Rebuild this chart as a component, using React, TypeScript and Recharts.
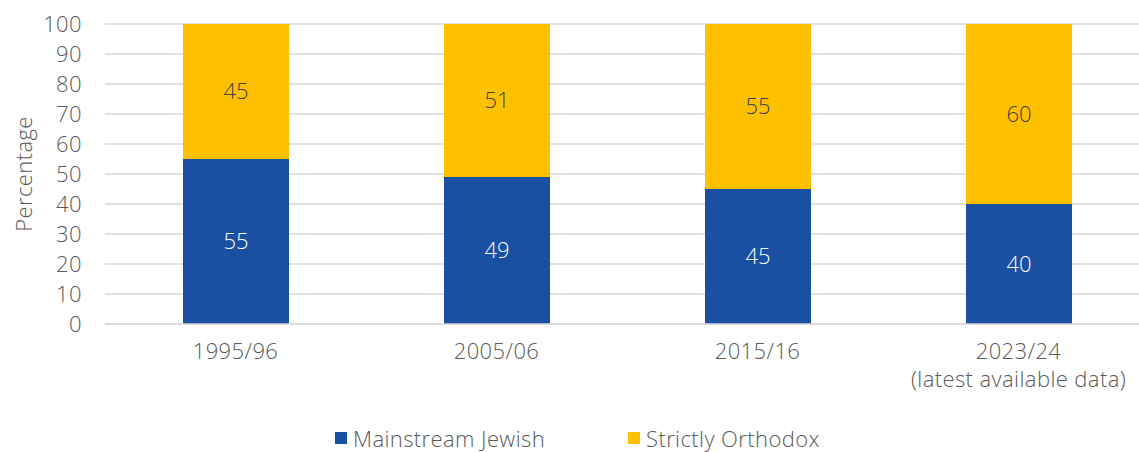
import React from 'react';
import {
  BarChart, Bar, XAxis, YAxis, CartesianGrid, LabelList, Label, Legend,
} from 'recharts';

const categories = ['1995/96', '2005/06', '2015/16', '2023/24\n(latest available data)'];
const mainstream = [55, 49, 45, 40];
const orthodox = [45, 51, 55, 60];
const yTicks = [0, 10, 20, 30, 40, 50, 60, 70, 80, 90, 100];

const BLUE = '#1a50a2';
const GOLD = '#ffc000';
const TEXT = '#595959';
const FONT = '"Open Sans", "Noto Sans", sans-serif';
const FS = 22;
const LS = 0.4;

const data = categories.map((c, i) => ({
  name: c,
  mainstream: mainstream[i],
  orthodox: orthodox[i],
}));

const XTick = ({ x, y, payload }) => {
  const lines = String(payload.value).split('\n');
  return (
    <g transform={`translate(${x},${y})`}>
      {lines.map((l, i) => (
        <text key={i} x={0} y={27 + i * 28} textAnchor="middle" fill={TEXT}
          fontSize={FS} fontFamily={FONT} fontWeight={300} letterSpacing={LS}>{l}</text>
      ))}
    </g>
  );
};

const LegendBox = () => (
  <div style={{ position: 'relative', height: 34, fontFamily: FONT, fontSize: FS, fontWeight: 300, color: TEXT, letterSpacing: LS }}>
    {[['Mainstream Jewish', BLUE, 335], ['Strictly Orthodox', GOLD, 628]].map(([t, c, left]) => (
      <div key={t} style={{ position: 'absolute', left: left as number, top: 0, display: 'flex', alignItems: 'center', whiteSpace: 'nowrap' }}>
        <span style={{ width: 12, height: 12, background: c as string, display: 'inline-block', marginRight: 6 }} />
        {t}
      </div>
    ))}
  </div>
);

export default function App() {
  return (
    <div style={{ position: 'absolute', left: 0, top: 0, width: 1139, height: 452, overflow: 'hidden', background: '#fff' }}>
      <BarChart width={1149} height={452} data={data} barSize={106}
        margin={{ top: 24, right: 0, bottom: 0, left: 0 }}>
        <CartesianGrid vertical={false} stroke="#d9d9d9" strokeWidth={1.5} />
        <XAxis dataKey="name" tick={<XTick />} tickLine={false} axisLine={{ stroke: '#d9d9d9', strokeWidth: 1.5 }}
          interval={0} height={94} />
        <YAxis domain={[0, 100]} ticks={yTicks} interval={0} tickLine={false} axisLine={false} tickSize={0} tickMargin={23}
          width={105} tick={{ fontSize: FS, fill: TEXT, fontFamily: FONT, fontWeight: 300, letterSpacing: LS }}>
          <Label value="Percentage" angle={-90} position="insideLeft" offset={24}
            style={{ fontSize: FS, fill: TEXT, fontFamily: FONT, fontWeight: 300, textAnchor: 'middle', letterSpacing: LS }} />
        </YAxis>
        <Legend verticalAlign="bottom" content={<LegendBox />} wrapperStyle={{ left: 0, width: 1139, bottom: -5 }} />
        <Bar dataKey="mainstream" stackId="a" fill={BLUE} isAnimationActive={false}>
          <LabelList dataKey="mainstream" position="center" fill="#ffffff" fontSize={FS} fontFamily={FONT} fontWeight={300} />
        </Bar>
        <Bar dataKey="orthodox" stackId="a" fill={GOLD} isAnimationActive={false}>
          <LabelList dataKey="orthodox" position="center" fill="#404040" fontSize={FS} fontFamily={FONT} fontWeight={300} />
        </Bar>
      </BarChart>
    </div>
  );
}
